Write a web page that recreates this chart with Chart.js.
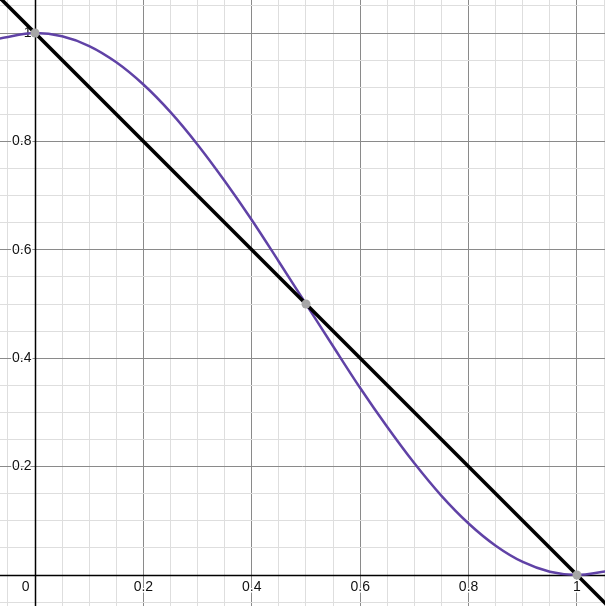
<!DOCTYPE html>
<html>
<head>
<meta charset="utf-8">
<script src="https://cdn.jsdelivr.net/npm/chart.js@4/dist/chart.umd.min.js"></script>
<style>
  html, body { margin: 0; padding: 0; background: #fff; }
  #wrap { width: 605px; height: 606px; }
</style>
</head>
<body>
<div id="wrap"><canvas id="c" width="605" height="606"></canvas></div>
<script>
// purple curve
const curveX = [-0.065, 0, 0.05, 0.1, 0.15, 0.2, 0.25, 0.3, 0.35, 0.4, 0.45, 0.5,
                0.55, 0.6, 0.65, 0.7, 0.75, 0.8, 0.85, 0.9, 0.95, 1.0, 1.055];
const curveY = [0.99, 1, 0.994, 0.976, 0.946, 0.905, 0.854, 0.794, 0.727, 0.655, 0.578, 0.5,
                0.422, 0.345, 0.273, 0.206, 0.146, 0.095, 0.054, 0.024, 0.006, 0, 0.007];
// black straight line
const lineX = [-0.07, 1.06];
const lineY = [1.07, -0.06];
// gray intersection points
const pointX = [0, 0.5, 1];
const pointY = [1, 0.5, 0];
// axis labels
const xTickValues = [0.2, 0.4, 0.6, 0.8, 1];
const xTickLabels = ['0.2', '0.4', '0.6', '0.8', '1'];
const yTickValues = [0.2, 0.4, 0.6, 0.8, 1];
const yTickLabels = ['0.2', '0.4', '0.6', '0.8', '1'];

const pairs = (xs, ys) => xs.map((x, i) => ({ x, y: ys[i] }));

function gridTicks(scale) {
  const t = [];
  for (let k = -2; k <= 22; k++) {
    const v = k * 0.05;
    if (v >= scale.min && v <= scale.max) t.push({ value: v });
  }
  scale.ticks = t;
}
function gridColor(ctx) {
  const v = ctx.tick ? ctx.tick.value : 0;
  const k = Math.round(v * 100);
  if (k === 0) return 'rgba(0,0,0,0)';
  return k % 20 === 0 ? '#8a8a8a' : '#dedede';
}

const axesPlugin = {
  id: 'axes',
  beforeDatasetsDraw(chart) {
    const { ctx, scales: { x, y }, chartArea: a } = chart;
    const x0 = Math.round(x.getPixelForValue(0)) + 0.5;
    const y0 = Math.round(y.getPixelForValue(0)) + 0.5;
    ctx.save();
    ctx.strokeStyle = '#000';
    ctx.lineWidth = 1.5;
    ctx.beginPath();
    ctx.moveTo(x0, a.top); ctx.lineTo(x0, a.bottom);
    ctx.moveTo(a.left, y0); ctx.lineTo(a.right, y0);
    ctx.stroke();

    ctx.font = '14px "Liberation Sans", Arial, sans-serif';
    ctx.fillStyle = '#111';
    ctx.lineJoin = 'round';
    ctx.strokeStyle = '#fff';
    ctx.lineWidth = 3;
    const txt = (s, px, py) => { ctx.strokeText(s, px, py); ctx.fillText(s, px, py); };

    ctx.textAlign = 'center';
    ctx.textBaseline = 'middle';
    xTickValues.forEach((v, i) => txt(xTickLabels[i], x.getPixelForValue(v), y0 + 12));
    ctx.textAlign = 'right';
    txt('0', x0 - 6, y0 + 12);
    yTickValues.forEach((v, i) => txt(yTickLabels[i], x0 - 4, y.getPixelForValue(v)));
    ctx.restore();
  }
};

new Chart(document.getElementById('c').getContext('2d'), {
  type: 'scatter',
  data: {
    datasets: [
      { type: 'line', data: pairs(lineX, lineY), borderColor: '#000', borderWidth: 3.6,
        pointRadius: 0, fill: false, order: 2 },
      { type: 'line', data: pairs(curveX, curveY), borderColor: '#6042a6', borderWidth: 2.5,
        pointRadius: 0, fill: false, cubicInterpolationMode: 'monotone', order: 3 },
      { data: pairs(pointX, pointY), backgroundColor: '#a6a6a6', borderWidth: 0,
        pointRadius: 4.5, order: 1 }
    ]
  },
  options: {
    responsive: false, animation: false,
    layout: { padding: 0, autoPadding: false },
    plugins: { legend: { display: false }, tooltip: { enabled: false } },
    scales: {
      x: { type: 'linear', min: -0.0646, max: 1.0517,
           afterBuildTicks: gridTicks,
           afterFit: s => { s.height = 0; s.paddingLeft = 0; s.paddingRight = 0; },
           ticks: { display: false, padding: 0 }, border: { display: false },
           grid: { color: gridColor, lineWidth: 1, drawTicks: false } },
      y: { type: 'linear', min: -0.0572, max: 1.0609,
           afterBuildTicks: gridTicks,
           afterFit: s => { s.width = 0; s.paddingTop = 0; s.paddingBottom = 0; },
           ticks: { display: false, padding: 0 }, border: { display: false },
           grid: { color: gridColor, lineWidth: 1, drawTicks: false } }
    }
  },
  plugins: [axesPlugin]
});
</script>
</body>
</html>
